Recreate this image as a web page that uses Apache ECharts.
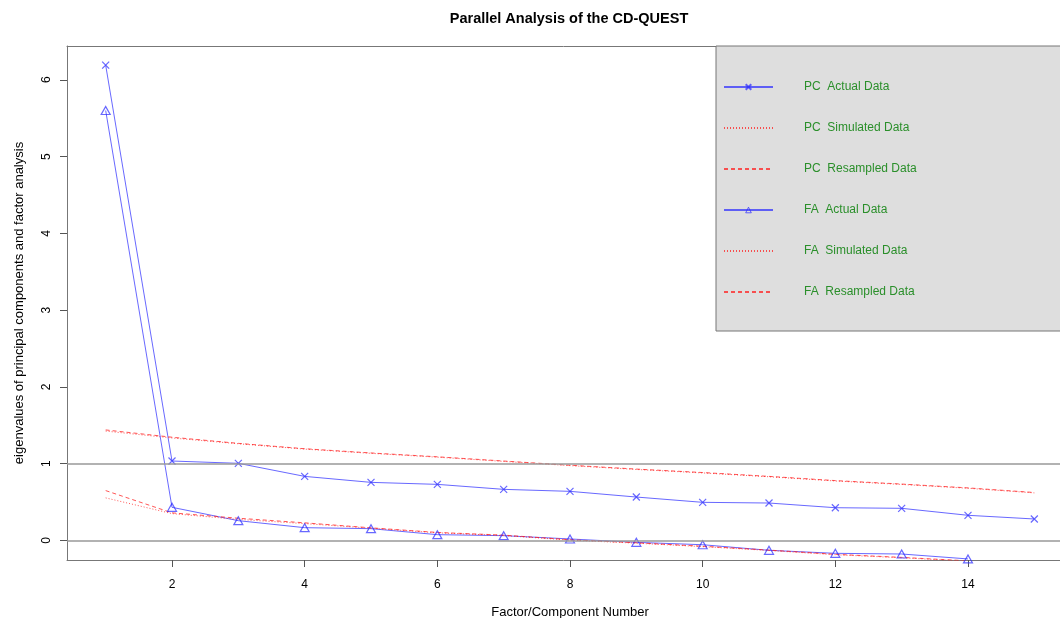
<!DOCTYPE html>
<html>
<head>
<meta charset="utf-8">
<title>Parallel Analysis of the CD-QUEST</title>
<script src="https://cdn.jsdelivr.net/npm/echarts@6/dist/echarts.min.js"></script>
<style>
  html, body { margin: 0; padding: 0; background: #fff; }
  #chart { width: 1060px; height: 618px; }
</style>
</head>
<body>
<div id="chart"></div>
<script>
// factor / component numbers
var factors = [1, 2, 3, 4, 5, 6, 7, 8, 9, 10, 11, 12, 13, 14, 15];
// eigenvalues
var pcActual    = [6.19, 1.035, 1.005, 0.835, 0.757, 0.731, 0.666, 0.64, 0.566, 0.497, 0.488, 0.427, 0.419, 0.328, 0.28];
var pcSimulated = [1.425, 1.335, 1.26, 1.19, 1.135, 1.085, 1.03, 0.975, 0.925, 0.88, 0.83, 0.775, 0.73, 0.68, 0.62];
var pcResampled = [1.44, 1.345, 1.265, 1.195, 1.14, 1.09, 1.035, 0.98, 0.93, 0.885, 0.835, 0.78, 0.735, 0.685, 0.625];
var faActual    = [5.6, 0.432, 0.258, 0.167, 0.154, 0.076, 0.063, 0.02, -0.024, -0.055, -0.128, -0.167, -0.176, -0.24];
var faSimulated = [0.555, 0.35, 0.275, 0.22, 0.16, 0.1, 0.065, 0.005, -0.035, -0.08, -0.13, -0.185, -0.225, -0.27];
var faResampled = [0.65, 0.36, 0.29, 0.23, 0.165, 0.105, 0.07, 0.01, -0.03, -0.075, -0.125, -0.18, -0.22, -0.265];
// axis ticks
var xTicks = [2, 4, 6, 8, 10, 12, 14];
var yTicks = [0, 1, 2, 3, 4, 5, 6];
var refLines = [0, 1];

var BLUE = 'rgba(40,40,255,0.7)';
var RED = 'rgba(255,30,30,0.75)';
var GREEN = '#2a8f2a';
var FONT = 'Liberation Sans, Arial, sans-serif';

function pairs(arr) {
    return arr.map(function (v, i) { return [factors[i], v]; });
}

var chart = echarts.init(document.getElementById('chart'));
chart.setOption({
    animation: false,
    title: {
        text: 'Parallel Analysis of the CD-QUEST',
        left: 564, top: 6, textAlign: 'center',
        textStyle: { fontFamily: FONT, fontSize: 14.5, fontWeight: 'bold', color: '#000' }
    },
    graphic: [{
        type: 'rect', z: 1,
        shape: { x: 716, y: 46, width: 360, height: 285 },
        style: { fill: '#dedede', stroke: '#777', lineWidth: 1 }
    }],
    legend: {
        orient: 'vertical', left: 723, top: 81, z: 5,
        itemWidth: 49, itemHeight: 7, itemGap: 29, padding: 0,
        textStyle: { fontFamily: FONT, fontSize: 12, color: GREEN, padding: [0, 0, 0, 26] },
        data: [
            'PC  Actual Data', 'PC  Simulated Data', 'PC  Resampled Data',
            { name: 'FA  Actual Data', itemStyle: { color: 'none', borderColor: BLUE, borderWidth: 1 } },
            'FA  Simulated Data', 'FA  Resampled Data'
        ]
    },
    grid: { left: 67, right: 0, top: 46, bottom: 58, show: false, outerBoundsMode: 'none' },
    xAxis: [{
        type: 'value', min: 0.417, max: 15.387,
        name: 'Factor/Component Number', nameLocation: 'middle', nameGap: 46,
        nameTextStyle: { fontFamily: FONT, fontSize: 13, color: '#000', padding: [0, 0, 0, 13] },
        axisLine: { show: true, onZero: false, lineStyle: { color: '#777' } },
        axisTick: { show: true, length: 7, customValues: xTicks, lineStyle: { color: '#555' } },
        axisLabel: { customValues: xTicks, margin: 19, fontFamily: FONT, fontSize: 12, color: '#000' },
        splitLine: { show: false }
    }, {
        // top edge of the box
        type: 'value', position: 'top', min: 0.417, max: 15.387,
        axisLine: { show: true, onZero: false, lineStyle: { color: '#777' } },
        axisTick: { show: false }, axisLabel: { show: false }, splitLine: { show: false }
    }],
    yAxis: {
        type: 'value', min: -0.254, max: 6.44,
        name: 'eigenvalues of principal components and factor analysis',
        nameLocation: 'middle', nameGap: 41,
        nameTextStyle: { fontFamily: FONT, fontSize: 13, color: '#000' },
        axisLine: { show: true, lineStyle: { color: '#777' } },
        axisTick: { show: true, length: 7, customValues: yTicks, lineStyle: { color: '#555' } },
        axisLabel: { customValues: yTicks, rotate: 90, margin: 14, fontFamily: FONT, fontSize: 12, color: '#000' },
        splitLine: { show: false }
    },
    series: [
        {
            name: 'PC  Actual Data', type: 'line', data: pairs(pcActual),
            symbol: 'path://M0,0L10,10M10,0L0,10', symbolSize: 7,
            itemStyle: { color: 'rgba(0,0,0,0)', borderColor: BLUE, borderWidth: 1.2 },
            lineStyle: { color: BLUE, width: 1 },
            markLine: {
                silent: true, symbol: 'none', label: { show: false },
                lineStyle: { color: '#999', type: 'solid', width: 1.5 },
                data: refLines.map(function (v) { return { yAxis: v }; })
            }
        },
        {
            name: 'PC  Simulated Data', type: 'line', data: pairs(pcSimulated),
            symbol: 'none', itemStyle: { color: RED, opacity: 0 },
            lineStyle: { color: RED, width: 1, type: [1, 2] }
        },
        {
            name: 'PC  Resampled Data', type: 'line', data: pairs(pcResampled),
            symbol: 'none', itemStyle: { color: RED, opacity: 0 },
            lineStyle: { color: RED, width: 1, type: [4, 3] }
        },
        {
            name: 'FA  Actual Data', type: 'line', data: pairs(faActual),
            symbol: 'triangle', symbolSize: [9, 8],
            itemStyle: { color: 'none', borderColor: BLUE, borderWidth: 1.2 },
            lineStyle: { color: BLUE, width: 1 }
        },
        {
            name: 'FA  Simulated Data', type: 'line', data: pairs(faSimulated),
            symbol: 'none', itemStyle: { color: RED, opacity: 0 },
            lineStyle: { color: RED, width: 1, type: [1, 2] }
        },
        {
            name: 'FA  Resampled Data', type: 'line', data: pairs(faResampled),
            symbol: 'none', itemStyle: { color: RED, opacity: 0 },
            lineStyle: { color: RED, width: 1, type: [4, 3] }
        }
    ]
});
</script>
</body>
</html>
